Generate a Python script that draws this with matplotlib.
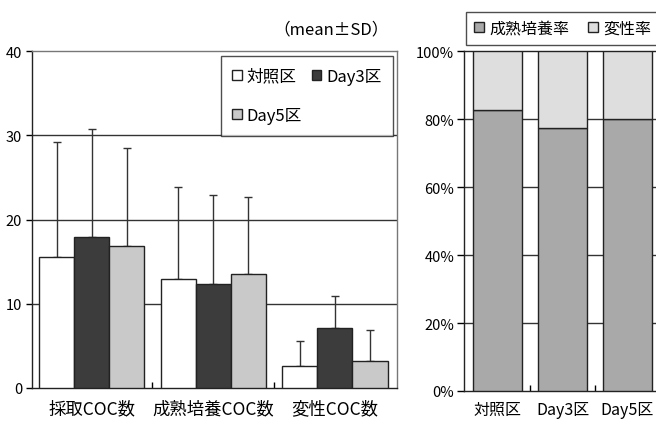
import matplotlib
matplotlib.use("Agg")
import matplotlib.pyplot as plt
import numpy as np

plt.rcParams['font.family'] = ['Noto Sans CJK JP', 'DejaVu Sans']

# ---- data: left chart ----
categories = ['採取COC数', '成熟培養COC数', '変性COC数']
groups = ['対照区', 'Day3区', 'Day5区']
mean_ctrl = [15.6, 12.9, 2.6]
mean_day3 = [17.9, 12.3, 7.1]
mean_day5 = [16.9, 13.5, 3.2]
sd_ctrl = [13.6, 11.0, 3.0]
sd_day3 = [12.8, 10.6, 3.8]
sd_day5 = [11.6, 9.2, 3.7]
y_ticks = [0, 10, 20, 30, 40]

# ---- data: right chart ----
rate_groups = ['対照区', 'Day3区', 'Day5区']
maturation_rate = [82.7, 77.3, 80.0]
denaturation_rate = [17.3, 22.7, 20.0]
rate_labels = ['成熟培養率', '変性率']
pct_ticks = [0, 20, 40, 60, 80, 100]

W, H = 656, 427
fig = plt.figure(figsize=(W / 100, H / 100), dpi=100)
fig.patch.set_facecolor('white')

def fx(px):
    return px / W

def fy(py):
    return 1 - py / H

# ---------- left chart ----------
ax1 = fig.add_axes([fx(32), fy(389), fx(397) - fx(32), fy(52) - fy(389)])
x = np.arange(len(categories))
bw = 0.288
colors = ['white', '#3c3c3c', '#c9c9c9']
means = [mean_ctrl, mean_day3, mean_day5]
sds = [sd_ctrl, sd_day3, sd_day5]
handles = []
for i, (m, s, c, lab) in enumerate(zip(means, sds, colors, groups)):
    xs = x + (i - 1) * bw
    h = ax1.bar(xs, m, width=bw, color=c, edgecolor='#222222', linewidth=1.0,
                label=lab, zorder=3)
    handles.append(h)
    ax1.errorbar(xs, m, yerr=[np.zeros(len(m)), s], fmt='none',
                 ecolor='#333333', elinewidth=1.0, capsize=3, capthick=1.0,
                 zorder=2)

ax1.set_xlim(-0.49, 2.51)
ax1.set_ylim(0, 40)
ax1.set_yticks(y_ticks)
ax1.set_yticklabels([str(t) for t in y_ticks], fontsize=10.5)
for yv in [10, 20, 30]:
    ax1.axhline(yv, color='#333333', lw=1.0, zorder=1)
ax1.set_xticks(x)
ax1.set_xticklabels(categories, fontsize=12.5)
ax1.tick_params(axis='x', which='major', length=0, pad=8)
ax1.set_xticks([0.5, 1.5], minor=True)
ax1.tick_params(axis='x', which='minor', direction='in', length=4, width=1)
ax1.tick_params(axis='y', direction='out', length=4, width=1, pad=3)
for sp in ['left', 'bottom']:
    ax1.spines[sp].set_color('#222222')
    ax1.spines[sp].set_linewidth(1.0)
for sp in ['top', 'right']:
    ax1.spines[sp].set_color('#777777')
    ax1.spines[sp].set_linestyle((0, (1, 1)))
    ax1.spines[sp].set_linewidth(1.0)

# order so that row 1 = 対照区, Day3区 ; row 2 = Day5区
order = [0, 2, 1]
leg1 = ax1.legend([handles[k] for k in order], [groups[k] for k in order],
                  loc='upper right', ncol=2, fontsize=12, frameon=True,
                  fancybox=False, edgecolor='#222222', handlelength=0.55,
                  handleheight=0.55, handletextpad=0.3, columnspacing=0.6,
                  borderpad=0.7, labelspacing=1.35, borderaxespad=0,
                  bbox_to_anchor=(0.989, 0.985))
leg1.get_frame().set_linewidth(1.0)
leg1.set_zorder(5)

fig.text(fx(389), fy(30), '（mean±SD）', ha='right', va='center', fontsize=12)

# ---------- right chart ----------
ax2 = fig.add_axes([fx(464), fy(392), fx(660) - fx(464), fy(52) - fy(392)])
xr = np.arange(len(rate_groups))
bw2 = 0.75
ax2.bar(xr, maturation_rate, width=bw2, color='#a9a9a9', edgecolor='#222222',
        linewidth=1.0, label=rate_labels[0], zorder=3)
ax2.bar(xr, denaturation_rate, bottom=maturation_rate, width=bw2,
        color='#dedede', edgecolor='#222222', linewidth=1.0,
        label=rate_labels[1], zorder=3)
for yv in [20, 40, 60, 80]:
    ax2.axhline(yv, color='#333333', lw=1.0, zorder=1)
ax2.set_xlim(-0.52, 2.5)
ax2.set_ylim(0, 100)
ax2.set_yticks(pct_ticks)
ax2.set_yticklabels([f'{t}%' for t in pct_ticks], fontsize=10.5)
ax2.tick_params(axis='y', direction='out', length=5, width=1, pad=2)
ax2.set_xticks(xr)
ax2.set_xticklabels(rate_groups, fontsize=11.5)
ax2.tick_params(axis='x', which='major', length=0, pad=7)
ax2.set_xticks([0.5, 1.5], minor=True)
ax2.tick_params(axis='x', which='minor', direction='in', length=4, width=1)
for sp in ax2.spines.values():
    sp.set_color('#222222')
    sp.set_linewidth(1.0)

leg2 = fig.legend(handles=ax2.get_legend_handles_labels()[0],
                  labels=rate_labels, loc='upper left', ncol=2,
                  bbox_to_anchor=(fx(466), fy(13)), fontsize=11.5,
                  frameon=True, fancybox=False, edgecolor='#222222',
                  handlelength=0.6, handleheight=0.6, handletextpad=0.35,
                  columnspacing=1.2, borderpad=0.5, borderaxespad=0)
leg2.get_frame().set_linewidth(1.0)

fig.savefig('out.png', dpi=100, facecolor='white')
